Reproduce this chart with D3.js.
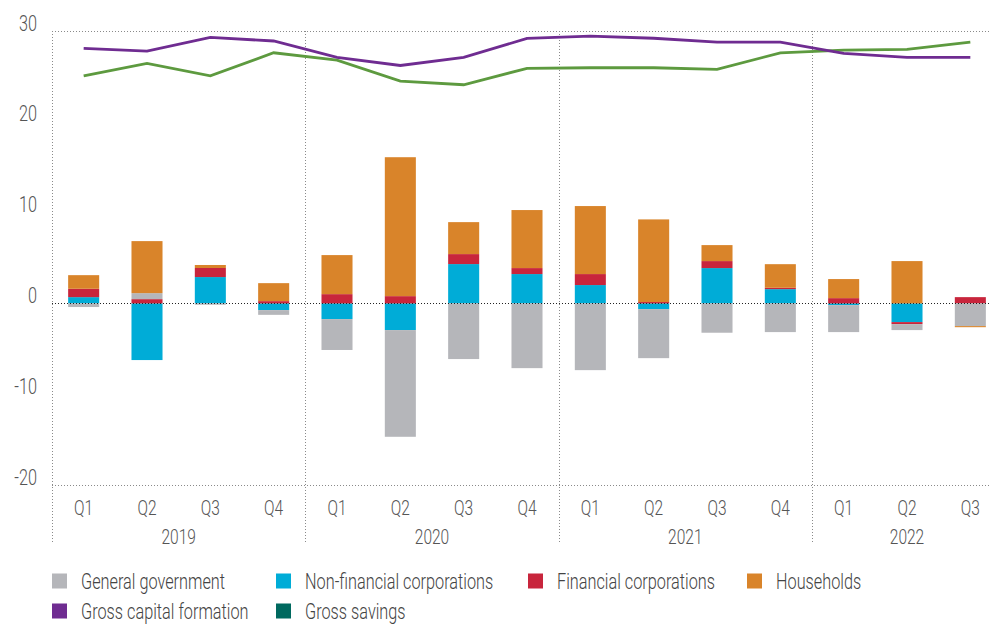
<!DOCTYPE html>
<html>
<head>
<meta charset="utf-8">
<script src="https://cdn.jsdelivr.net/npm/d3@7"></script>
<style>
  body { margin: 0; background: #fff; }
  svg text { font-family: Roboto, "Liberation Sans", sans-serif; font-weight: 300; }
</style>
</head>
<body>
<svg></svg>
<script>
const width = 991;
const height = 624;

// data
const years = ["2019", "2020", "2021", "2022"];
const quarters = ["Q1","Q2","Q3","Q4","Q1","Q2","Q3","Q4","Q1","Q2","Q3","Q4","Q1","Q2","Q3"];
const periodYears = ["2019","2019","2019","2019","2020","2020","2020","2020","2021","2021","2021","2021","2022","2022","2022"];
const generalGovernment = [-0.4, 0.66, -0.15, -0.52, -3.4, -11.75, -6.13, -7.13, -7.35, -5.4, -3.23, -3.16, -2.97, -0.66, -2.5];
const nonFinancialCorps = [0.69, -6.24, 2.9, -0.74, -1.73, -2.94, 4.33, 3.23, 2.02, -0.63, 3.89, 1.57, -0.19, -2.06, 0];
const financialCorps = [0.92, 0.47, 1.0, 0.25, 1.02, 0.8, 1.1, 0.66, 1.21, 0.15, 0.77, 0.15, 0.58, -0.22, 0.69];
const households = [1.5, 5.73, 0.33, 1.98, 4.3, 15.3, 3.52, 6.39, 7.49, 9.1, 1.76, 2.6, 2.1, 4.66, -0.12];
const grossCapitalFormation = [28.08, 27.79, 29.3, 28.9, 27.1, 26.2, 27.1, 29.18, 29.44, 29.2, 28.78, 28.78, 27.53, 27.1, 27.1];
const grossSavings = [25.07, 26.43, 25.07, 27.6, 26.8, 24.48, 24.08, 25.88, 25.95, 25.95, 25.77, 27.6, 27.9, 27.97, 28.78];
const yTicks = [-20, -10, 0, 10, 20, 30];

const periods = quarters.map((q, i) => periodYears[i] + " " + q);

const colors = {
    gov: "#b5b6ba",
    nfc: "#00acd7",
    fc: "#c8253c",
    hh: "#d9842a",
    gcf: "#6f2c91",
    gs: "#5d9a3f",
    gsLegend: "#00695f"
};

// text is squeezed sideways to look like the condensed face of the original
const squeeze = 0.74;

let svg = d3.select("svg")
    .attr("width", width)
    .attr("height", height);

// draw a condensed label at (px, py)
function label(parent, px, py, txt, size, anchor, fill) {
    return parent.append("text")
        .attr("transform", `translate(${px},${py}) scale(${squeeze},1)`)
        .attr("text-anchor", anchor)
        .attr("fill", fill)
        .style("font-size", size + "px")
        .text(txt);
}

const plotLeft = 52, plotRight = 1002, plotTop = 31, plotBottom = 485;

const x = d3.scaleBand()
    .domain(periods)
    .range([plotLeft, plotRight])
    .paddingInner(0.51)
    .paddingOuter(0.255);

const y = d3.scaleLinear()
    .domain([-20, 30])
    .range([plotBottom, plotTop]);

// table for stacking
const table = periods.map((p, i) => ({
    period: p,
    nfc: nonFinancialCorps[i],
    fc: financialCorps[i],
    gov: generalGovernment[i],
    hh: households[i]
}));

const stack = d3.stack()
    .keys(["nfc", "fc", "gov", "hh"])
    .offset(d3.stackOffsetDiverging);

const series = stack(table);

// frame lines
const grid = svg.append("g")
    .attr("fill", "none")
    .attr("stroke", "#8a8a8a")
    .attr("stroke-width", 1)
    .attr("stroke-dasharray", "1,2");

grid.append("line")
    .attr("x1", plotLeft).attr("x2", width)
    .attr("y1", Math.round(y(30)) + 0.5).attr("y2", Math.round(y(30)) + 0.5);
grid.append("line")
    .attr("x1", plotLeft).attr("x2", width)
    .attr("y1", Math.round(y(-20)) + 0.5).attr("y2", Math.round(y(-20)) + 0.5);

// year boundaries (left edge of each year's first quarter band)
const yearEdges = [0, 4, 8, 12].map(i => plotLeft + i * x.step());
grid.selectAll(".vline")
    .data(yearEdges)
    .join("line")
    .attr("x1", d => Math.round(d) + 0.5)
    .attr("x2", d => Math.round(d) + 0.5)
    .attr("y1", y(30))
    .attr("y2", 543);

// bars
svg.append("g")
    .selectAll("g")
    .data(series)
    .join("g")
    .attr("fill", d => colors[d.key])
    .selectAll("rect")
    .data(d => d)
    .join("rect")
    .attr("x", d => x(d.data.period))
    .attr("width", x.bandwidth())
    .attr("y", d => y(Math.max(d[0], d[1])))
    .attr("height", d => Math.abs(y(d[0]) - y(d[1])));

// zero line
svg.append("line")
    .attr("x1", plotLeft).attr("x2", width)
    .attr("y1", Math.round(y(0)) + 0.5).attr("y2", Math.round(y(0)) + 0.5)
    .attr("stroke", "#222")
    .attr("stroke-width", 1)
    .attr("stroke-dasharray", "1,2");

// lines
const line = d3.line()
    .x((d, i) => x(periods[i]) + x.bandwidth() / 2)
    .y(d => y(d));

svg.append("path")
    .attr("d", line(grossSavings))
    .attr("fill", "none")
    .attr("stroke", colors.gs)
    .attr("stroke-width", 2.8);

svg.append("path")
    .attr("d", line(grossCapitalFormation))
    .attr("fill", "none")
    .attr("stroke", colors.gcf)
    .attr("stroke-width", 2.8);

// y axis
const yAxis = svg.append("g")
    .attr("transform", `translate(${plotLeft},0)`)
    .call(d3.axisLeft(y).tickValues(yTicks).tickSize(0).tickPadding(15)
        .tickFormat(d => String(d)));
yAxis.select(".domain").remove();
yAxis.selectAll("text")
    .attr("x", null)
    .attr("dy", null)
    .attr("transform", `translate(-15,-1) scale(${squeeze},1)`)
    .attr("fill", "#555")
    .style("font-size", "22px");

// quarter labels
const qg = svg.append("g");
periods.forEach((p, i) => {
    label(qg, x(p) + x.bandwidth() / 2, 515, quarters[i], 21, "middle", "#555");
});

// year labels
const yg = svg.append("g");
years.forEach((yr, i) => {
    const a = yearEdges[i];
    const b = i < 3 ? yearEdges[i + 1] : plotRight;
    label(yg, (a + b) / 2, 544, yr, 21, "middle", "#555");
});

// legend
const legendItems = [
    {label: "General government", color: colors.gov, x: 52, row: 0},
    {label: "Non-financial corporations", color: colors.nfc, x: 276, row: 0},
    {label: "Financial corporations", color: colors.fc, x: 528, row: 0},
    {label: "Households", color: colors.hh, x: 747, row: 0},
    {label: "Gross capital formation", color: colors.gcf, x: 52, row: 1},
    {label: "Gross savings", color: colors.gsLegend, x: 276, row: 1}
];

const legend = svg.append("g")
    .selectAll("g")
    .data(legendItems)
    .join("g")
    .attr("transform", d => `translate(${d.x},${581 + d.row * 30})`);

legend.append("rect")
    .attr("x", 0)
    .attr("y", -7.5)
    .attr("width", 15)
    .attr("height", 15)
    .attr("fill", d => d.color);

legend.each(function(d) {
    label(d3.select(this), 29, 7.5, d.label, 22, "start", "#444");
});
</script>
</body>
</html>
